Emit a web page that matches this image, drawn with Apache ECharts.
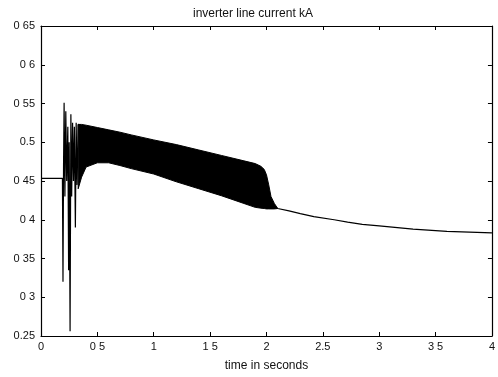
<!DOCTYPE html>
<html>
<head>
<meta charset="utf-8">
<script src="https://cdn.jsdelivr.net/npm/echarts@6/dist/echarts.min.js"></script>
<style>
  html, body { margin: 0; padding: 0; background: #fff; }
  #chart { width: 498px; height: 377px; }
</style>
</head>
<body>
<div id="chart"></div>
<script>
// tick labels as printed on the scan (decimal points mostly lost)
const xTickLabels = ["0", "0 5", "1", "1 5", "2", "2.5", "3", "3 5", "4"];
const yTickLabels = ["0.25", "0 3", "0 35", "0 4", "0 45", "0.5", "0 55", "0 6", "0 65"];

// steady state + fault transient (s, kA)
const transientTime = [0, 0.19, 0.195, 0.2, 0.205, 0.212, 0.22, 0.228, 0.238, 0.245, 0.25, 0.258, 0.265, 0.272, 0.28, 0.288, 0.296, 0.305, 0.312, 0.32, 0.33];
const transientValue = [0.4535, 0.4535, 0.32, 0.47, 0.551, 0.43, 0.54, 0.45, 0.52, 0.335, 0.5, 0.256, 0.536, 0.43, 0.525, 0.45, 0.52, 0.39, 0.525, 0.445, 0.523];

// dense ripple band, drawn as the area between its envelopes
const bandTime = [0.33, 0.36, 0.4, 0.5, 0.6, 0.7, 0.8, 1.0, 1.2, 1.4, 1.6, 1.8, 1.9, 1.95, 1.98, 2.0, 2.02, 2.04, 2.07, 2.1];
const bandUpper = [0.523, 0.523, 0.522, 0.519, 0.516, 0.513, 0.5095, 0.503, 0.497, 0.490, 0.483, 0.476, 0.4725, 0.469, 0.465, 0.458, 0.445, 0.430, 0.421, 0.4145];
const bandLower = [0.44, 0.455, 0.468, 0.4735, 0.4735, 0.470, 0.466, 0.459, 0.449, 0.440, 0.431, 0.421, 0.416, 0.415, 0.4145, 0.414, 0.414, 0.414, 0.414, 0.4145];

// recovery
const decayTime = [2.1, 2.2, 2.3, 2.42, 2.6, 2.72, 2.85, 3.0, 3.3, 3.6, 4.0];
const decayValue = [0.4145, 0.4115, 0.408, 0.404, 0.400, 0.397, 0.394, 0.392, 0.388, 0.385, 0.383];

const X_MIN = 0, X_MAX = 4, X_STEP = 0.5;
const Y_MIN = 0.25, Y_MAX = 0.65, Y_STEP = 0.05;
const font = "'Liberation Sans', Arial, sans-serif";

const pick = (labels, min, step) => (v) => labels[Math.round((v - min) / step)] ?? "";

const lineData = transientTime.map((t, i) => [t, transientValue[i]])
  .concat(decayTime.map((t, i) => [t, decayValue[i]]));

const baseX = {
  type: "value", min: X_MIN, max: X_MAX, interval: X_STEP,
  axisLine: { show: true, onZero: false, lineStyle: { color: "#000", width: 1.2 } },
  axisTick: { show: true, inside: true, length: 4, lineStyle: { color: "#000" } },
  splitLine: { show: false },
};
const baseY = {
  type: "value", min: Y_MIN, max: Y_MAX, interval: Y_STEP,
  axisLine: { show: true, onZero: false, lineStyle: { color: "#000", width: 1.2 } },
  axisTick: { show: true, inside: true, length: 4, lineStyle: { color: "#000" } },
  splitLine: { show: false },
};

const chart = echarts.init(document.getElementById("chart"));
chart.setOption({
  animation: false,
  backgroundColor: "#fff",
  title: {
    text: "inverter line current kA",
    left: 188, top: 3,
    textStyle: { fontFamily: font, fontSize: 12, fontWeight: "normal", color: "#111" },
  },
  grid: { left: 41, right: 1, top: 26, bottom: 32 },
  xAxis: [
    Object.assign({}, baseX, {
      position: "bottom",
      name: "time in seconds", nameLocation: "middle", nameGap: 24,
      nameTextStyle: { fontFamily: font, fontSize: 12, color: "#111" },
      axisLabel: { margin: 5, fontFamily: font, fontSize: 11, color: "#111", formatter: pick(xTickLabels, X_MIN, X_STEP) },
    }),
    Object.assign({}, baseX, { position: "top", axisLabel: { show: false } }),
  ],
  yAxis: [
    Object.assign({}, baseY, {
      position: "left",
      axisLabel: { margin: 6, fontFamily: font, fontSize: 11, color: "#111", formatter: pick(yTickLabels, Y_MIN, Y_STEP) },
    }),
    Object.assign({}, baseY, { position: "right", axisLabel: { show: false } }),
  ],
  series: [
    {
      type: "custom",
      clip: true,
      silent: true,
      data: [0],
      renderItem: (params, api) => {
        const pts = bandTime.map((t, i) => api.coord([t, bandUpper[i]]))
          .concat(bandTime.map((t, i) => api.coord([t, bandLower[i]])).reverse());
        return {
          type: "polygon",
          shape: { points: pts },
          style: { fill: "#000", stroke: "#000", lineWidth: 1 },
        };
      },
    },
    {
      type: "line",
      data: lineData,
      showSymbol: false,
      clip: true,
      lineStyle: { color: "#000", width: 1.2 },
    },
  ],
});
</script>
</body>
</html>
